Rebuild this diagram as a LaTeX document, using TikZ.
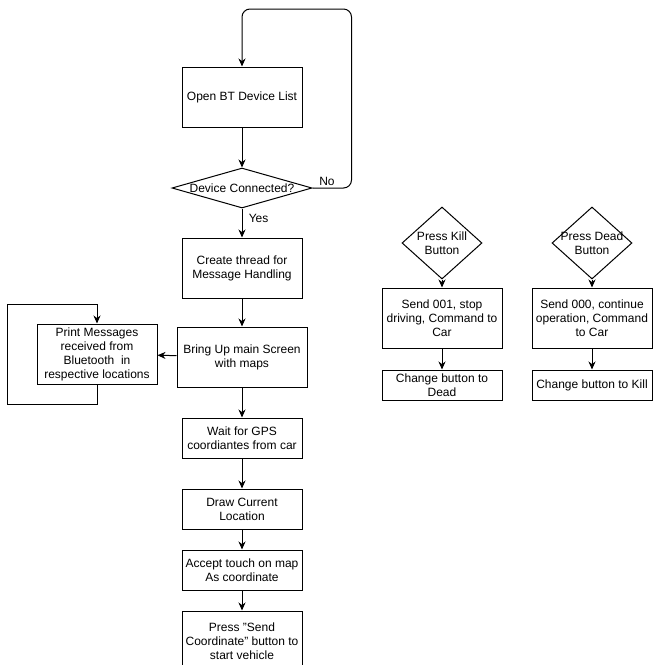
\documentclass[tikz,border=0pt]{standalone}
\usepackage{fontspec}
\setmainfont{Liberation Sans}
\usetikzlibrary{arrows.meta, positioning, shapes}

\begin{document}
\begin{tikzpicture}[x=1pt, y=-1pt, line width=1pt,
    every node/.style={font=\fontsize{12}{14}\selectfont},
    process/.style={draw, align=center, inner sep=2pt, minimum width=120pt, minimum height=#1},
    process/.default=60pt,
    decision/.style={draw, diamond, inner sep=0pt, minimum width=#1, minimum height=72pt},
    flow/.style={-{Stealth[length=8pt, width=7pt]}}]
\useasboundingbox (0,0) rectangle (653,665);

% Main column
\node[process] (open) at (242,97) {Open BT Device List};
\node[decision=140pt, minimum height=40pt, below=40pt of open] (conn) {};
\node at (conn) {Device Connected?};
\node[process, below=29pt of conn] (thread) {Create thread for\\Message Handling};
\node[process, minimum width=130pt, below=28pt of thread] (mainscr) {Bring Up main Screen\\with maps};
\node[process=40pt, below=30pt of mainscr] (gps) {Wait for GPS\\coordiantes from car};
\node[process=40pt, below=30pt of gps] (curloc) {Draw Current\\Location};
\node[process=40pt, below=20pt of curloc] (touch) {Accept touch on map\\As coordinate};
\node[process, below=20pt of touch] (sendc) {Press "Send\\Coordinate" button to\\start vehicle};

% Message printing side box
\node[process] (print) at (97,354) {Print Messages\\received from\\Bluetooth\ \ in\\respective locations};

\draw[flow] (open) -- (conn);
\draw[flow, rounded corners=8pt] (conn.east) -- node[above, xshift=-5pt, yshift=-1pt] {No} ++(39,0) -- ++(0,-179) -| (open.north);
\draw[flow] (conn) -- node[right, pos=0.35, xshift=3pt] {Yes} (thread);
\draw[flow] (thread) -- (mainscr);
\draw[flow] (mainscr) -- (print);
\draw[flow] (print.south) -- ++(0,20) -- ++(-90,0) -- ++(0,-100) -| (print.north);
\draw[flow] (mainscr) -- (gps);
\draw[flow] (gps) -- (curloc);
\draw[flow] (curloc) -- (touch);
\draw[flow] (touch) -- (sendc);

% Kill button
\node[decision=80pt, label={[align=center]center:Press Kill\\Button}] (kill) at (442,243) {};
\node[process, below=8pt of kill] (stop) {Send 001, stop\\driving, Command to\\Car};
\node[process=30pt, below=21pt of stop] (todead) {Change button to\\Dead};
\draw[flow] (kill) -- (stop);
\draw[flow] (stop) -- (todead);

% Dead button
\node[decision=80pt, label={[align=center]center:Press Dead\\Button}] (dead) at (592,243) {};
\node[process, below=8pt of dead] (cont) {Send 000, continue\\operation, Command\\to Car};
\node[process=30pt, below=21pt of cont] (tokill) {Change button to Kill};
\draw[flow] (dead) -- (cont);
\draw[flow] (cont) -- (tokill);
\end{tikzpicture}
\end{document}
